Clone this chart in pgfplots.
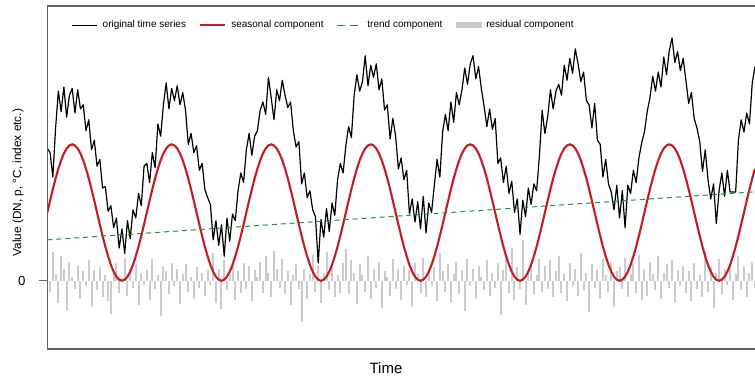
\documentclass[border=0pt]{standalone}
\usepackage{pgfplots}
\pgfplotsset{compat=1.18}
\usepackage{pgfplotstable}
\usepackage{fontspec}
\setmainfont{Liberation Sans}
\definecolor{seasred}{RGB}{195,28,36}
\definecolor{trendgreen}{RGB}{40,140,50}
\definecolor{resgrey}{RGB}{203,203,203}
\definecolor{axisgrey}{RGB}{100,100,100}

% seasonal component (one value every 1/3 time unit)
\pgfplotstableread[row sep=\\]{y\\
5\\5.87\\6.71\\7.5\\8.21\\8.83\\9.33\\9.70\\9.92\\10\\9.92\\9.70\\9.33\\8.83\\8.21\\7.5\\6.71\\5.87\\5\\4.13\\3.29\\2.5\\1.79\\1.17\\0.67\\0.30\\0.08\\0\\0.08\\0.30\\0.67\\1.17\\1.79\\2.5\\3.29\\4.13\\
5\\5.87\\6.71\\7.5\\8.21\\8.83\\9.33\\9.70\\9.92\\10\\9.92\\9.70\\9.33\\8.83\\8.21\\7.5\\6.71\\5.87\\5\\4.13\\3.29\\2.5\\1.79\\1.17\\0.67\\0.30\\0.08\\0\\0.08\\0.30\\0.67\\1.17\\1.79\\2.5\\3.29\\4.13\\
5\\5.87\\6.71\\7.5\\8.21\\8.83\\9.33\\9.70\\9.92\\10\\9.92\\9.70\\9.33\\8.83\\8.21\\7.5\\6.71\\5.87\\5\\4.13\\3.29\\2.5\\1.79\\1.17\\0.67\\0.30\\0.08\\0\\0.08\\0.30\\0.67\\1.17\\1.79\\2.5\\3.29\\4.13\\
5\\5.87\\6.71\\7.5\\8.21\\8.83\\9.33\\9.70\\9.92\\10\\9.92\\9.70\\9.33\\8.83\\8.21\\7.5\\6.71\\5.87\\5\\4.13\\3.29\\2.5\\1.79\\1.17\\0.67\\0.30\\0.08\\0\\0.08\\0.30\\0.67\\1.17\\1.79\\2.5\\3.29\\4.13\\
5\\5.87\\6.71\\7.5\\8.21\\8.83\\9.33\\9.70\\9.92\\10\\9.92\\9.70\\9.33\\8.83\\8.21\\7.5\\6.71\\5.87\\5\\4.13\\3.29\\2.5\\1.79\\1.17\\0.67\\0.30\\0.08\\0\\0.08\\0.30\\0.67\\1.17\\1.79\\2.5\\3.29\\4.13\\
5\\5.87\\6.71\\7.5\\8.21\\8.83\\9.33\\9.70\\9.92\\10\\9.92\\9.70\\9.33\\8.83\\8.21\\7.5\\6.71\\5.87\\5\\4.13\\3.29\\2.5\\1.79\\1.17\\0.67\\0.30\\0.08\\0\\0.08\\0.30\\0.67\\1.17\\1.79\\2.5\\3.29\\4.13\\
5\\5.87\\6.71\\7.5\\8.21\\8.83\\9.33\\9.70\\9.92\\10\\9.92\\9.70\\9.33\\8.83\\8.21\\7.5\\6.71\\5.87\\5\\4.13\\3.29\\2.5\\1.79\\1.17\\0.67\\0.30\\0.08\\0\\0.08\\0.30\\0.67\\1.17\\1.79\\2.5\\3.29\\4.13\\
5\\5.87\\6.71\\7.5\\8.21\\
}\seasonal

% original time series
\pgfplotstableread[row sep=\\]{y\\
9.7\\9.4\\7.6\\11.2\\13.9\\12.4\\14.2\\12.0\\13.6\\14.1\\12.3\\14.0\\12.6\\12.9\\11.0\\11.8\\9.6\\10.3\\8.4\\8.9\\6.8\\6.9\\5.1\\5.5\\3.9\\4.6\\2.4\\3.8\\2.0\\4.4\\3.1\\5.2\\4.6\\6.4\\5.5\\8.4\\
8.6\\7.2\\9.4\\8.3\\11.5\\10.6\\12.9\\14.5\\12.6\\14.1\\13.2\\14.3\\12.9\\13.8\\12.5\\10.0\\10.8\\9.4\\9.9\\8.1\\8.6\\6.7\\6.1\\5.6\\3.0\\4.4\\2.6\\4.1\\1.8\\4.6\\2.9\\4.9\\4.4\\6.6\\7.9\\7.2\\
9.6\\10.8\\9.2\\10.6\\11.0\\12.5\\13.1\\12.2\\14.9\\13.4\\11.8\\14.0\\13.2\\14.7\\13.6\\12.7\\13.1\\11.0\\9.8\\10.2\\7.1\\7.9\\6.1\\6.6\\5.2\\4.7\\1.3\\4.5\\3.2\\5.3\\3.6\\5.7\\4.8\\7.4\\8.6\\7.9\\
9.9\\11.3\\10.5\\13.6\\15.1\\13.9\\14.6\\16.5\\14.3\\15.8\\14.9\\15.9\\14.0\\14.8\\12.5\\12.9\\10.4\\11.9\\10.6\\8.2\\9.0\\7.4\\8.1\\4.9\\6.0\\4.3\\5.8\\3.8\\6.2\\3.5\\5.7\\5.0\\7.0\\8.9\\7.6\\10.9\\
12.2\\11.0\\13.1\\11.6\\13.8\\12.9\\14.0\\15.6\\14.4\\15.9\\16.5\\14.8\\15.7\\14.1\\12.8\\11.3\\12.6\\11.1\\11.9\\8.6\\9.0\\7.2\\8.4\\6.4\\7.3\\5.0\\6.0\\3.4\\5.9\\4.7\\6.8\\5.6\\7.1\\6.6\\9.1\\12.5\\
10.8\\12.0\\14.0\\12.6\\13.9\\14.4\\13.6\\15.8\\14.7\\16.3\\15.2\\17.0\\15.9\\14.6\\15.3\\13.2\\12.9\\11.2\\13.0\\10.3\\10.0\\7.6\\8.9\\7.1\\6.5\\5.2\\7.0\\4.6\\6.6\\3.9\\7.0\\6.4\\8.1\\7.2\\9.0\\10.1\\
10.9\\12.4\\13.4\\15.0\\13.9\\15.3\\14.2\\16.4\\15.1\\16.9\\17.8\\16.0\\16.8\\15.4\\16.3\\14.7\\13.0\\13.8\\11.9\\11.2\\10.2\\8.0\\9.6\\7.4\\6.0\\7.1\\4.2\\6.6\\7.9\\6.2\\8.1\\6.5\\6.5\\6.5\\10.3\\11.8\\
10.9\\12.3\\11.5\\14.5\\15.7\\
}\original

% residual component
\pgfplotstableread[row sep=\\]{y\\
1.2\\-0.8\\2.1\\0.5\\-1.6\\1.8\\0.9\\-2.2\\1.4\\0.3\\-0.6\\1.1\\-1.3\\0.7\\-0.4\\1.5\\-1.9\\0.8\\-0.7\\1.0\\-1.2\\0.4\\-1.5\\-2.4\\0.6\\1.3\\-0.9\\0.2\\1.7\\-1.1\\0.9\\-0.5\\1.2\\-1.8\\0.6\\-0.3\\
0.8\\-1.4\\1.6\\-0.6\\0.4\\-2.6\\1.1\\0.7\\-1.0\\1.3\\-0.4\\0.9\\-1.7\\0.5\\1.2\\-0.8\\0.3\\-1.3\\1.0\\-0.5\\0.6\\-1.1\\0.8\\-0.3\\2.0\\-1.6\\0.9\\-2.1\\1.5\\-0.7\\0.4\\1.1\\-1.4\\0.7\\-0.9\\1.3\\
-0.6\\1.1\\-1.5\\0.8\\0.3\\1.4\\-0.9\\1.8\\0.6\\-1.2\\2.2\\0.9\\-0.5\\1.6\\-1.0\\0.7\\-1.8\\0.4\\1.2\\-0.6\\-3.0\\0.9\\-1.3\\0.5\\1.9\\-0.8\\1.1\\-1.6\\0.6\\2.1\\-0.7\\1.0\\-1.2\\0.4\\-0.9\\1.3\\
2.3\\-1.0\\1.5\\0.6\\-1.7\\1.2\\0.4\\-0.8\\1.8\\-1.3\\0.9\\-0.5\\1.4\\-2.0\\0.7\\0.3\\-1.1\\1.6\\-0.6\\0.9\\-1.4\\1.1\\-0.3\\0.8\\-1.9\\1.3\\0.5\\-0.9\\1.7\\-1.2\\0.6\\-0.4\\1.0\\-1.5\\2.0\\0.7\\
-0.8\\1.2\\-1.6\\0.5\\1.4\\-1.0\\0.8\\-2.2\\1.6\\-0.4\\0.9\\-1.3\\1.1\\0.3\\-0.7\\1.5\\-1.1\\0.6\\-0.5\\1.3\\-2.5\\0.8\\1.7\\-0.9\\2.4\\-1.4\\1.0\\-0.6\\3.0\\-1.8\\0.7\\1.2\\-1.0\\0.4\\1.6\\-0.8\\
1.1\\-0.6\\1.5\\-1.2\\0.7\\1.8\\-0.9\\0.5\\-1.5\\1.3\\-0.4\\0.9\\-1.1\\2.0\\-0.7\\0.6\\-2.3\\1.2\\-0.5\\0.8\\-1.3\\1.6\\0.4\\-0.8\\1.4\\-1.9\\0.7\\1.0\\-0.6\\1.7\\-1.2\\0.5\\1.3\\-0.9\\1.9\\-1.4\\
0.9\\-1.1\\1.4\\0.5\\-0.7\\1.8\\-1.3\\0.6\\1.2\\-0.5\\1.5\\-1.6\\0.8\\-0.4\\1.1\\-0.9\\0.7\\-1.5\\1.3\\-0.6\\0.4\\-1.2\\2.2\\-0.8\\1.0\\-2.0\\0.6\\1.6\\-1.0\\0.9\\-0.3\\1.2\\-1.4\\0.5\\1.8\\-0.7\\
1.0\\-1.2\\0.6\\1.4\\-0.5\\
}\resid

\begin{document}
\begin{tikzpicture}
\begin{axis}[
  name=ax, at={(0,0)}, anchor=south west,
  scale only axis, width=353.85pt, height=171.5pt,
  xmin=0, xmax=85.333, ymin=-5.0, ymax=20.14,
  axis line style={draw=none},
  xtick=\empty, ytick={0}, yticklabels={0}, ytick pos=left,
  tick align=outside, major tick length=4pt,
  tick style={axisgrey, line width=0.6pt},
  /pgf/number format/assume math mode=true,
  yticklabel style={font=\fontsize{6.6}{7}\selectfont, xshift=-3.4pt},
  ylabel={Value (DN, p, °C, index etc.)},
  ylabel style={at={(axis description cs:-0.0414,0.485)}, anchor=center, font=\fontsize{5.9}{7}\selectfont},
  xlabel={Time},
  xlabel style={at={(axis description cs:0.4786,-0.0554)}, anchor=center, font=\fontsize{7.5}{9}\selectfont},
  legend columns=4,
  legend style={draw=none, fill=none, inner sep=0pt, outer sep=0pt,
    at={(axis description cs:0.0345,0.9446)}, anchor=west,
    font=\fontsize{5}{6}\selectfont, nodes={inner sep=0.3pt},
    /tikz/every odd column/.append style={column sep=2.2pt},
    /tikz/every even column/.append style={column sep=6.2pt}},
]
\addlegendimage{legend image code/.code={\draw[black, line width=0.5pt] (0pt,0pt) -- (12.5pt,0pt);}}
\addlegendentry{original time series}
\addlegendimage{legend image code/.code={\draw[seasred, line width=1.1pt] (0pt,0pt) -- (12.5pt,0pt);}}
\addlegendentry{seasonal component}
\addlegendimage{legend image code/.code={\draw[trendgreen, line width=0.5pt] (0pt,0pt) -- (4pt,0pt) (6.5pt,0pt) -- (10.5pt,0pt); \path (12.5pt,0pt);}}
\addlegendentry{trend component}
\addlegendimage{legend image code/.code={\fill[resgrey] (0pt,-1.4pt) rectangle (12.5pt,1.4pt);}}
\addlegendentry{residual component}

\addplot[resgrey, line width=1.0pt, ycomb, forget plot] table[x expr=\coordindex/3, y=y] {\resid};
\addplot[black, line width=0.6pt, line join=round, forget plot] table[x expr=\coordindex/3, y=y] {\original};
\addplot[seasred, line width=1.05pt, forget plot] table[x expr=\coordindex/3, y=y] {\seasonal};
\addplot[trendgreen, line width=0.5pt, dash pattern=on 2.5pt off 2pt, forget plot] coordinates {(0,3.0) (85.333,6.52)};
\end{axis}
\draw[axisgrey, line width=0.7pt] (ax.north east) -- (ax.north west) -- (ax.south west) -- (ax.south east);
\pgfresetboundingbox
\useasboundingbox (-23.65pt,-13pt) rectangle (353.85pt,174.5pt);
\end{tikzpicture}
\end{document}
